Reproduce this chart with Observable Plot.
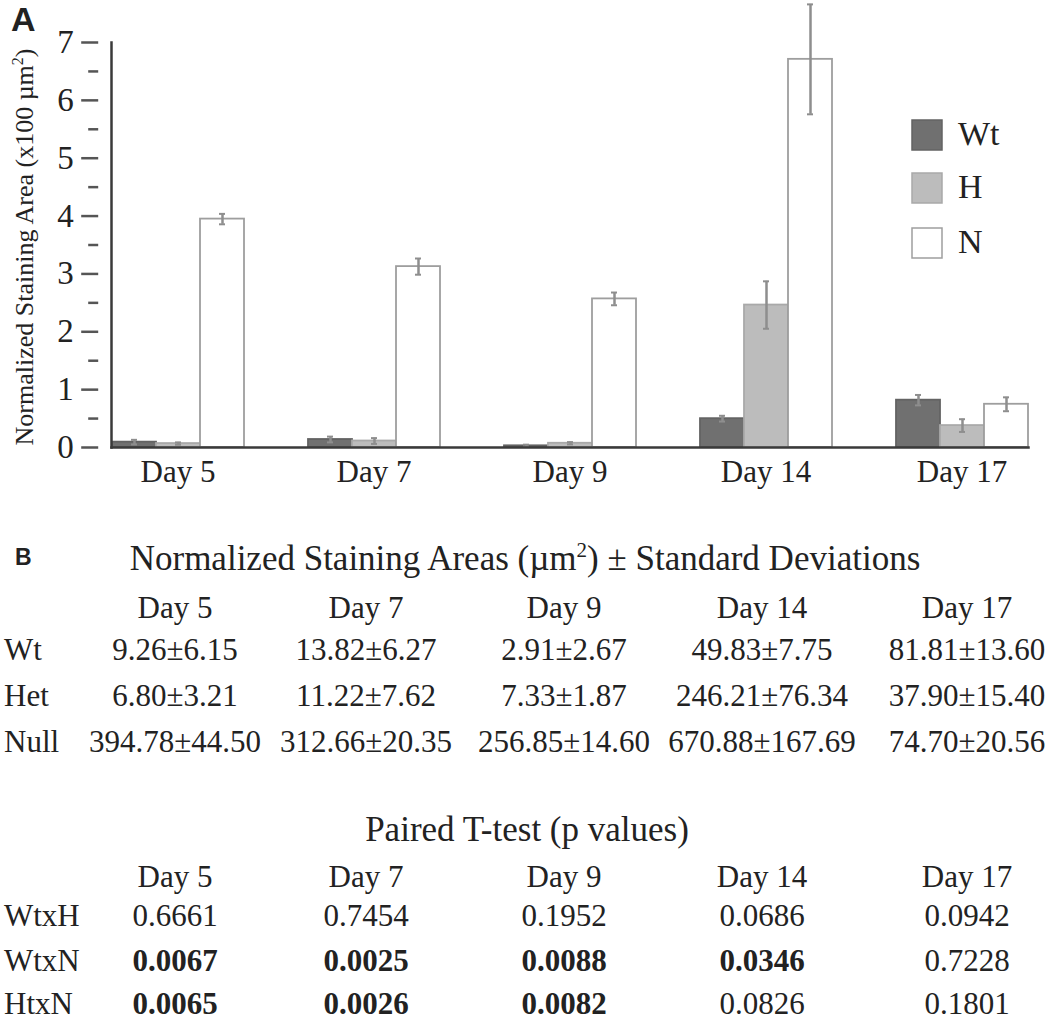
<!DOCTYPE html>
<html>
<head>
<meta charset="utf-8">
<script src="https://cdn.jsdelivr.net/npm/d3@7"></script>
<script src="https://cdn.jsdelivr.net/npm/@observablehq/plot@0.6"></script>
<style>
  body { margin: 0; background: #fff; }
  #wrap { position: relative; width: 1050px; height: 1022px; overflow: hidden; }
  #wrap > svg.overlay { position: absolute; left: 0; top: 0; pointer-events: none; }
</style>
</head>
<body>
<div id="wrap"></div>
<script>
// ---------- data ----------
const days = ["Day 5", "Day 7", "Day 9", "Day 14", "Day 17"];
const series = ["Wt", "H", "N"];
const rowLabels = ["Wt", "Het", "Null"];

// Normalized staining areas (µm²), means and standard deviations (panel B)
const wtMean = [9.26, 13.82, 2.91, 49.83, 81.81];
const hetMean = [6.80, 11.22, 7.33, 246.21, 37.90];
const nullMean = [394.78, 312.66, 256.85, 670.88, 74.70];
const wtSD = [6.15, 6.27, 2.67, 7.75, 13.60];
const hetSD = [3.21, 7.62, 1.87, 76.34, 15.40];
const nullSD = [44.50, 20.35, 14.60, 167.69, 20.56];

// error bar half-lengths as drawn in panel A (x100 µm²)
const wtErrBar = [0.04, 0.05, 0.02, 0.05, 0.09];
const hetErrBar = [0.02, 0.05, 0.02, 0.41, 0.11];
const nullErrBar = [0.09, 0.14, 0.11, 0.95, 0.12];

// Paired t-test p values
const pairLabels = ["WtxH", "WtxN", "HtxN"];
const pWtH = [0.6661, 0.7454, 0.1952, 0.0686, 0.0942];
const pWtN = [0.0067, 0.0025, 0.0088, 0.0346, 0.7228];
const pHtN = [0.0065, 0.0026, 0.0082, 0.0826, 0.1801];

const yTicks = [0, 1, 2, 3, 4, 5, 6, 7];
const yMinorTicks = [0.5, 1.5, 2.5, 3.5, 4.5, 5.5, 6.5];

// ---------- styles ----------
const fills = ["#707070", "#bcbcbc", "#ffffff"];
const strokes = ["#636363", "#a9a9a9", "#9e9e9e"];
const serif = '"Liberation Serif", "Times New Roman", serif';
const sans = '"Liberation Sans", Arial, sans-serif';

const means = [wtMean, hetMean, nullMean];
const errs = [wtErrBar, hetErrBar, nullErrBar];
const sds = [wtSD, hetSD, nullSD];
const pvals = [pWtH, pWtN, pHtN];

const rows = [];
days.forEach((day, i) => series.forEach((s, j) => {
  rows.push({day, group: s, value: means[j][i] / 100, err: errs[j][i]});
}));

const errColor = "#8e8e8e";
const axisColor = "#3a3a3a";
const AXIS_DX = -12.8;

const chart = Plot.plot({
  width: 1050,
  height: 495,
  marginLeft: 97,
  marginRight: 7,
  marginTop: 42,
  marginBottom: 48,
  style: {fontFamily: serif, color: "#222", background: "transparent", overflow: "visible"},
  fx: {domain: days, paddingInner: 0.32, paddingOuter: 0.065, label: null},
  x: {domain: series, padding: 0, axis: null},
  y: {domain: [0, 7], axis: null},
  marks: [
    ...series.map((s, j) => Plot.barY(rows.filter(d => d.group === s), {
      fx: "day", x: "group", y: "value",
      fill: fills[j], stroke: strokes[j], strokeWidth: 1.8
    })),
    Plot.ruleX(rows, {fx: "day", x: "group", y1: d => d.value - d.err, y2: d => d.value + d.err, stroke: errColor, strokeWidth: 2.5}),
    Plot.tickY(rows, {fx: "day", x: "group", y: d => d.value + d.err, stroke: errColor, strokeWidth: 2, insetLeft: 19, insetRight: 19}),
    Plot.tickY(rows, {fx: "day", x: "group", y: d => d.value - d.err, stroke: errColor, strokeWidth: 2, insetLeft: 19, insetRight: 19}),
    Plot.frame({anchor: "bottom", facet: "super", stroke: axisColor, strokeWidth: 2.5}),
    Plot.frame({anchor: "left", facet: "super", stroke: axisColor, strokeWidth: 2.5}),
    Plot.axisY(yTicks, {tickSize: 17, tickPadding: 8, dx: AXIS_DX, fontSize: 33, tickFormat: d => String(d), stroke: "#555", strokeWidth: 2.5, fill: "#222", label: null}),
    Plot.axisY(yMinorTicks, {tickSize: 10, dx: AXIS_DX, text: null, stroke: "#555", strokeWidth: 2.5, label: null}),
    Plot.axisFx({anchor: "bottom", tickSize: 0, tickPadding: 12, fontSize: 31, fill: "#222", label: null})
  ]
});

const wrap = document.getElementById("wrap");
wrap.appendChild(chart);

// ---------- overlay text: panel labels, axis title, legend, tables ----------
const svg = d3.select(wrap).append("svg")
  .attr("class", "overlay")
  .attr("width", 1050).attr("height", 1022)
  .style("font-family", serif).attr("fill", "#222");

svg.append("text").attr("x", 11).attr("y", 31)
  .style("font-family", sans).attr("font-weight", "bold").attr("font-size", 34).text("A");

const yt = svg.append("text")
  .attr("transform", "translate(33,247) rotate(-90)")
  .attr("text-anchor", "middle").attr("font-size", 26);
yt.append("tspan").text("Normalized Staining Area (x100 µm");
yt.append("tspan").attr("font-size", 16).attr("dy", -10).text("2");
yt.append("tspan").attr("dy", 10).text(")");

// legend
const legY = [120, 173, 228];
series.forEach((s, j) => {
  svg.append("rect").attr("x", 912).attr("y", legY[j]).attr("width", 30).attr("height", 30)
    .attr("fill", fills[j]).attr("stroke", strokes[j]).attr("stroke-width", 1.5);
  svg.append("text").attr("x", 958).attr("y", legY[j] + 25).attr("font-size", 34).text(s);
});

// panel B
svg.append("text").attr("x", 15).attr("y", 565)
  .style("font-family", sans).attr("font-weight", "bold").attr("font-size", 23).text("B");

const colX = [175, 366, 564, 762, 967];
const titleFs = 35;
const fs = 31;
const t1 = svg.append("text").attr("x", 525).attr("y", 570).attr("text-anchor", "middle").attr("font-size", titleFs);
t1.append("tspan").text("Normalized Staining Areas (µm");
t1.append("tspan").attr("font-size", 21).attr("dy", -13).text("2");
t1.append("tspan").attr("dy", 13).text(") ± Standard Deviations");

days.forEach((d, i) => svg.append("text").attr("x", colX[i]).attr("y", 618)
  .attr("text-anchor", "middle").attr("font-size", fs).text(d));
const rowY1 = [660, 706, 752];
rowLabels.forEach((r, j) => {
  svg.append("text").attr("x", 4).attr("y", rowY1[j]).attr("font-size", fs).text(r);
  days.forEach((d, i) => svg.append("text").attr("x", colX[i]).attr("y", rowY1[j])
    .attr("text-anchor", "middle").attr("font-size", fs)
    .text(means[j][i].toFixed(2) + "±" + sds[j][i].toFixed(2)));
});

svg.append("text").attr("x", 527).attr("y", 841).attr("text-anchor", "middle").attr("font-size", titleFs)
  .text("Paired T-test (p values)");
days.forEach((d, i) => svg.append("text").attr("x", colX[i]).attr("y", 887)
  .attr("text-anchor", "middle").attr("font-size", fs).text(d));
const rowY2 = [926, 971, 1014];
pairLabels.forEach((r, j) => {
  svg.append("text").attr("x", 4).attr("y", rowY2[j]).attr("font-size", fs).text(r);
  days.forEach((d, i) => svg.append("text").attr("x", colX[i]).attr("y", rowY2[j])
    .attr("text-anchor", "middle").attr("font-size", fs)
    .attr("font-weight", pvals[j][i] < 0.05 ? "bold" : "normal")
    .text(pvals[j][i].toFixed(4)));
});
</script>
</body>
</html>
